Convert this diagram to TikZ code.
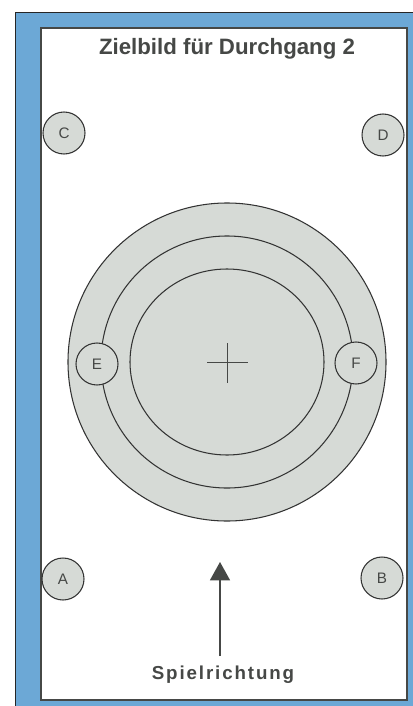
\documentclass[tikz,border=0pt]{standalone}
\usepackage{fontspec}
\setmainfont{Liberation Sans}
\usepackage{tikz}
\usetikzlibrary{arrows.meta, positioning}

\definecolor{bandblue}{RGB}{108,168,214}
\definecolor{discgrey}{RGB}{214,218,214}
\definecolor{inkgrey}{RGB}{70,72,70}

\begin{document}
\begin{tikzpicture}[x=0.03cm, y=-0.03cm,
    ring/.style={draw=black!80, line width=0.9pt},
    spot/.style={circle, draw=black!80, line width=0.9pt, fill=discgrey,
      minimum size=1.26cm, inner sep=0pt, text=inkgrey, font=\fontsize{13}{13}\selectfont}]

    \useasboundingbox (0,0) rectangle (412,706);

    % frame
    \draw[fill=bandblue, draw=black!85, line width=0.8pt] (15,12) rectangle (420,712);
    \draw[fill=white, draw=inkgrey, line width=1.6pt] (41,28) rectangle (407,700);

    \node[text=inkgrey, font=\bfseries\fontsize{19}{19}\selectfont] (title) at (227,49) {Zielbild für Durchgang 2};

    % target
    \coordinate (m) at (227,362);
    \fill[discgrey] (m) circle (4.77cm);
    \draw[ring] (m) circle (4.77cm);
    \draw[ring] (m) circle (3.78cm);
    \draw[ring] (m) ellipse (2.91cm and 2.79cm);
    \draw[inkgrey, line width=0.8pt] (207,362) -- (248,362) (227,343) -- (227,383);

    \node[spot] (C) at (64,133) {C};
    \node[spot] (D) at (383,135) {D};
    \node[spot] (E) at (97,364) {E};
    \node[spot] (F) at (356,363) {F};
    \node[spot] (A) at (63,579) {A};
    \node[spot] (B) at (382,578) {B};

    % Spielrichtung
    \node[text=inkgrey, font=\bfseries\fontsize{16}{16}\selectfont\addfontfeature{LetterSpace=10}] (dir) at (223,675) {Spielrichtung};
    \coordinate (tip) at (220,562);
    \draw[-{Triangle[length=0.55cm, width=0.6cm]}, inkgrey, line width=1.2pt, shorten <=5pt] (dir.north -| tip) -- (tip);
\end{tikzpicture}
\end{document}
